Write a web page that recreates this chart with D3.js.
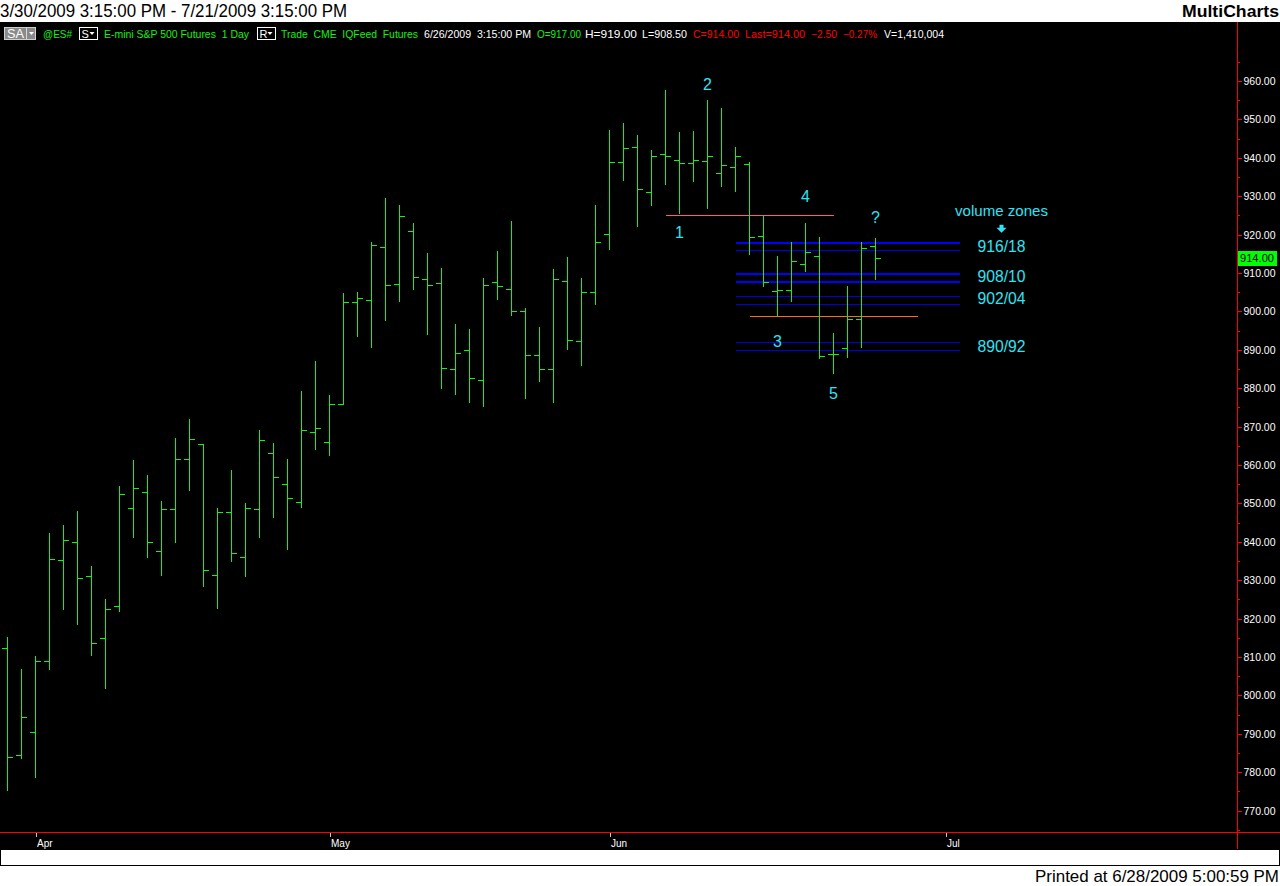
<!DOCTYPE html>
<html><head><meta charset="utf-8">
<script src="https://cdn.jsdelivr.net/npm/d3@7"></script>
<style>
html,body{margin:0;padding:0;background:#fff;overflow:hidden}
svg{display:block}
text{font-family:"Liberation Sans",Arial,sans-serif}
</style>
</head><body>
<svg id="chart" width="1280" height="886"></svg>
<script>
// ---------------- data ----------------
const dates = [
 "2009-03-30","2009-03-31",
 "2009-04-01","2009-04-02","2009-04-03","2009-04-06","2009-04-07","2009-04-08","2009-04-09","2009-04-13","2009-04-14","2009-04-15","2009-04-16","2009-04-17","2009-04-20","2009-04-21","2009-04-22","2009-04-23","2009-04-24","2009-04-27","2009-04-28","2009-04-29","2009-04-30",
 "2009-05-01","2009-05-04","2009-05-05","2009-05-06","2009-05-07","2009-05-08","2009-05-11","2009-05-12","2009-05-13","2009-05-14","2009-05-15","2009-05-18","2009-05-19","2009-05-20","2009-05-21","2009-05-22","2009-05-26","2009-05-27","2009-05-28","2009-05-29",
 "2009-06-01","2009-06-02","2009-06-03","2009-06-04","2009-06-05","2009-06-08","2009-06-09","2009-06-10","2009-06-11","2009-06-12","2009-06-15","2009-06-16","2009-06-17","2009-06-18","2009-06-19","2009-06-22","2009-06-23","2009-06-24","2009-06-25","2009-06-26"
];
const opens = [812.25,784.5,790.5,809.0,835.25,840.0,831.0,815.0,823.25,848.75,853.0,837.5,848.5,861.5,865.5,831.25,847.75,836.0,848.5,863.25,855.0,850.25,868.5,866.0,876.0,902.5,903.0,916.75,907.25,921.0,908.5,907.5,885.0,890.0,882.25,907.75,905.75,900.0,888.75,885.0,908.0,892.25,905.0,920.25,939.0,942.75,931.0,941.0,939.5,938.75,939.25,936.0,937.5,938.5,919.75,905.25,905.5,912.25,914.5,889.0,890.5,898.0,917.0];
const highs = [815.25,807.0,810.25,842.25,844.5,848.0,833.75,825.0,854.5,861.25,857.5,850.5,867.0,872.0,865.5,848.75,858.75,850.0,869.0,865.75,861.5,879.25,887.0,878.25,904.75,905.0,918.0,929.5,927.75,923.0,915.25,911.25,896.75,895.5,908.75,915.75,923.5,901.0,896.0,911.0,914.25,908.75,927.75,947.25,949.0,946.0,942.0,957.75,946.75,947.0,955.0,953.0,942.75,939.0,925.0,914.5,918.0,923.0,919.5,894.5,906.5,918.0,919.0];
const lows = [775.25,783.75,778.75,807.0,822.5,818.5,810.5,802.0,822.0,841.25,836.0,831.25,840.0,853.5,828.5,822.75,835.0,831.0,841.25,846.5,838.25,849.0,864.25,862.5,876.0,893.5,890.75,897.75,902.75,905.75,894.0,880.0,878.5,876.5,875.25,903.25,899.0,877.5,882.0,876.5,890.25,886.0,902.0,916.25,934.25,922.25,927.75,933.25,925.5,934.0,927.0,932.75,931.25,915.0,906.5,899.0,902.75,910.5,887.75,884.0,888.25,890.75,908.5];
const closes = [784.0,794.5,809.0,835.5,840.5,830.5,813.75,822.5,852.5,854.0,840.0,848.5,861.5,866.75,832.75,847.75,837.0,848.75,866.5,856.75,851.5,869.0,869.75,876.0,902.5,903.5,917.25,907.0,924.75,909.0,906.75,885.25,889.25,882.75,907.0,906.5,900.0,888.75,885.0,908.5,892.5,905.0,918.0,939.0,942.5,931.75,940.5,940.5,938.75,939.5,940.5,938.25,940.5,919.5,907.75,905.5,913.25,915.5,888.5,889.0,898.0,916.5,914.0];
const volume = 1410004;

const priceTicks = [770,780,790,800,810,820,830,840,850,860,870,880,890,900,910,920,930,940,950,960];
const priceMinorTicks = [765,775,785,795,805,815,825,835,845,855,865,875,885,895,905,915,925,935,945,955,965];
const monthLabels = ["Apr","May","Jun","Jul"];
const monthDates = ["2009-04-01","2009-05-01","2009-06-01","2009-07-01"];
const rangeEnd = "2009-07-21";

// volume zone lines (price, strong?)
const zoneLevels = [918, 916, 910, 908, 904, 902, 892, 890];
const zoneStrong = [true, false, true, true, false, false, false, false];
const zoneLabels = ["916/18","908/10","902/04","890/92"];
const zoneLabelPrices = [917.0, 909.2, 903.6, 891.1];
const zoneSpan = ["2009-06-12", "2009-07-02"];
// orange support / resistance lines
const orangeLevels = [925, 898.75];
const orangeStart = ["2009-06-05", "2009-06-15"];
const orangeEnd = ["2009-06-23", "2009-06-29"];
// wave labels
const waveLabels = ["1","2","3","4","5","?"];
const waveDates = ["2009-06-08","2009-06-10","2009-06-17","2009-06-19","2009-06-23","2009-06-26"];
const wavePrices = [920.7, 959.2, 892.4, 930.0, 878.8, 924.7];

// ---------------- helpers ----------------
const W = 1280, H = 886;
const last = dates.length - 1;
const dayMs = 86400000;
function idxOf(ds){
  const k = dates.indexOf(ds);
  if (k >= 0) return k;
  // future region: calendar days after last bar
  const diff = Math.round((new Date(ds) - new Date(dates[last])) / dayMs);
  return last + diff;
}
const maxIdx = idxOf(rangeEnd);

const x = d3.scaleLinear().domain([0, maxIdx]).range([7.5, 7.5 + 14 * maxIdx]);
const y = d3.scaleLinear().domain([770, 960]).range([810.6, 81]);
const py = v => Math.round(y(v)) + 0.5;

const GREEN = "#18ee18", RED = "#ff0000", CYAN = "#2ee4f4", ORANGE = "#ff6a2a", BLUE = "#0000ff", DBLUE = "#0000e0";

const svg = d3.select("#chart");

// background
svg.append("rect").attr("x",0).attr("y",0).attr("width",W).attr("height",H).attr("fill","#fff");
svg.append("rect").attr("x",0).attr("y",22).attr("width",W).attr("height",827).attr("fill","#000");

// title
svg.append("text").attr("x",0).attr("y",17).attr("font-size",18).attr("fill","#000")
  .attr("textLength",347).attr("lengthAdjust","spacingAndGlyphs")
  .text("3/30/2009 3:15:00 PM - 7/21/2009 3:15:00 PM");
svg.append("text").attr("x",1182).attr("y",17).attr("font-size",17).attr("font-weight","bold").attr("fill","#000")
  .attr("textLength",97).attr("lengthAdjust","spacingAndGlyphs").text("MultiCharts");

// ---------------- info bar ----------------
const fmt2 = d3.format(".2f");
const chg = closes[last] - closes[last-1];
const info = svg.append("g").attr("font-size",10.5);
// SA box
info.append("rect").attr("x",4.5).attr("y",27.5).attr("width",31).attr("height",12).attr("fill","#8a8a8a").attr("stroke","#cfcfcf");
info.append("line").attr("x1",26.5).attr("x2",26.5).attr("y1",28).attr("y2",39).attr("stroke","#d8d8d8");
info.append("text").attr("x",7).attr("y",38).attr("fill","#fff").attr("font-size",12).attr("textLength",17).attr("lengthAdjust","spacingAndGlyphs").text("SA");
info.append("path").attr("d","M29,32 L34,32 L31.5,35 Z").attr("fill","#fff");
// S box and R box
[[79.5,"S"],[257.5,"R"]].forEach(([bx,t])=>{
  info.append("rect").attr("x",bx).attr("y",27.5).attr("width",18).attr("height",12).attr("fill","#000").attr("stroke","#fff");
  info.append("text").attr("x",bx+2).attr("y",38).attr("fill","#fff").attr("font-size",11).text(t);
  info.append("path").attr("d",`M${bx+10},32 L${bx+15},32 L${bx+12.5},35 Z`).attr("fill","#fff");
});
const infoItems = [
  ["@ES#",43,29,GREEN],
  ["E-mini S&P 500 Futures  1 Day",104,145,GREEN],
  ["Trade  CME  IQFeed  Futures",281,137,GREEN],
  ["6/26/2009  3:15:00 PM",424,107,"#fff"],
  ["O="+fmt2(opens[last]),537,44,GREEN],
  ["H="+fmt2(highs[last]),585,52,"#fff"],
  ["L="+fmt2(lows[last]),642,45,"#fff"],
  ["C="+fmt2(closes[last]),693,46,RED],
  ["Last="+fmt2(closes[last]),745,60,RED],
  [fmt2(chg),811,26,RED],
  [fmt2(chg/closes[last-1]*100)+"%",843,34,RED],
  ["V="+d3.format(",")(volume),884,60,"#fff"]
];
info.selectAll("text.it").data(infoItems).join("text").attr("class","it")
  .attr("x",d=>d[1]).attr("y",38).attr("fill",d=>d[3])
  .attr("textLength",d=>d[2]).attr("lengthAdjust","spacingAndGlyphs")
  .attr("xml:space","preserve").style("white-space","pre")
  .text(d=>d[0]);

// ---------------- annotation lines ----------------
const zoneG = svg.append("g").attr("shape-rendering","crispEdges");
zoneG.selectAll("line").data(zoneLevels).join("line")
  .attr("x1", x(idxOf(zoneSpan[0]))).attr("x2", x(idxOf(zoneSpan[1])))
  .attr("y1",(d,i)=> zoneStrong[i] ? Math.round(y(d))+1 : py(d))
  .attr("y2",(d,i)=> zoneStrong[i] ? Math.round(y(d))+1 : py(d))
  .attr("stroke",(d,i)=> zoneStrong[i] ? BLUE : DBLUE)
  .attr("stroke-width",(d,i)=> zoneStrong[i] ? 2 : 1);

const orG = svg.append("g").attr("shape-rendering","crispEdges");
orG.selectAll("line").data(orangeLevels).join("line")
  .attr("x1",(d,i)=>x(idxOf(orangeStart[i]))).attr("x2",(d,i)=>x(idxOf(orangeEnd[i])))
  .attr("y1",d=>py(d)).attr("y2",d=>py(d))
  .attr("stroke",ORANGE).attr("stroke-width",1);

// ---------------- OHLC bars ----------------
const bars = svg.append("g").attr("stroke",GREEN).attr("stroke-width",1).attr("shape-rendering","crispEdges");
const idx = d3.range(dates.length);
bars.selectAll("line.hl").data(idx).join("line").attr("class","hl")
  .attr("x1",i=>x(i)).attr("x2",i=>x(i))
  .attr("y1",i=>Math.round(y(highs[i]))).attr("y2",i=>Math.round(y(lows[i]))+1);
bars.selectAll("line.op").data(idx).join("line").attr("class","op")
  .attr("x1",i=>x(i)-5.5).attr("x2",i=>x(i))
  .attr("y1",i=>py(opens[i])).attr("y2",i=>py(opens[i]));
bars.selectAll("line.cl").data(idx).join("line").attr("class","cl")
  .attr("x1",i=>x(i)).attr("x2",i=>x(i)+5.5)
  .attr("y1",i=>py(closes[i])).attr("y2",i=>py(closes[i]));

// ---------------- text annotations ----------------
const ann = svg.append("g").attr("fill",CYAN).attr("font-size",16).attr("text-anchor","middle");
ann.selectAll("text.w").data(waveLabels).join("text").attr("class","w")
  .attr("x",(d,i)=>x(idxOf(waveDates[i]))).attr("y",(d,i)=>y(wavePrices[i])+6)
  .text(d=>d);
const zx = x(idxOf("2009-07-05"));
ann.append("text").attr("x",zx).attr("y",y(926.2)+5.5).attr("font-size",15)
  .attr("textLength",93).attr("lengthAdjust","spacingAndGlyphs").text("volume zones");
ann.selectAll("text.z").data(zoneLabels).join("text").attr("class","z")
  .attr("x",zx).attr("y",(d,i)=>y(zoneLabelPrices[i])+6)
  .attr("textLength",48).attr("lengthAdjust","spacingAndGlyphs").text(d=>d);
const ay = y(921.5);
ann.append("path").attr("d",`M${zx-2},${ay-4} h4 v3 h3 l-5,5 l-5,-5 h3 z`).attr("fill",CYAN);

// ---------------- price axis ----------------
const axisX = 1237.5;
const axG = svg.append("g").attr("transform",`translate(${axisX},0)`);
axG.call(d3.axisRight(y).tickValues(priceMinorTicks).tickSize(2).tickFormat(""));
axG.append("g").call(d3.axisRight(y).tickValues(priceTicks).tickSize(4).tickPadding(2).tickFormat(d3.format(".2f")));
axG.selectAll(".domain").remove();
axG.selectAll(".tick line").attr("stroke",RED).attr("shape-rendering","crispEdges");
axG.selectAll(".tick text").attr("fill","#fff").attr("font-size",11)
  .attr("font-family","Liberation Sans, Arial, sans-serif")
  .attr("textLength",32).attr("lengthAdjust","spacingAndGlyphs");
// red axis line
svg.append("line").attr("x1",axisX).attr("x2",axisX).attr("y1",22).attr("y2",849).attr("stroke",RED).attr("shape-rendering","crispEdges");

// last price marker
const lp = y(closes[last]);
svg.append("rect").attr("x",1238).attr("y",Math.round(lp)-7).attr("width",39).attr("height",15).attr("fill","#00ff00");
svg.append("text").attr("x",1240).attr("y",Math.round(lp)+4).attr("font-size",11).attr("fill","#000")
  .attr("textLength",34).attr("lengthAdjust","spacingAndGlyphs").text(fmt2(closes[last]));

// ---------------- time axis ----------------
svg.append("line").attr("x1",0).attr("x2",W).attr("y1",832.5).attr("y2",832.5).attr("stroke",RED).attr("shape-rendering","crispEdges");
const mt = svg.append("g");
mt.selectAll("line").data(monthDates).join("line")
  .attr("x1",d=>Math.round(x(idxOf(d)))+0.5).attr("x2",d=>Math.round(x(idxOf(d)))+0.5)
  .attr("y1",833).attr("y2",837).attr("stroke","#c8c8c8").attr("shape-rendering","crispEdges");
mt.selectAll("text").data(monthDates).join("text")
  .attr("x",d=>Math.round(x(idxOf(d)))+1).attr("y",847).attr("fill","#fff").attr("font-size",10)
  .text((d,i)=>monthLabels[i]);

// bottom white band and footer
svg.append("rect").attr("x",0.5).attr("y",849.5).attr("width",1279).attr("height",16).attr("fill","#fff").attr("stroke","#000").attr("shape-rendering","crispEdges");
svg.append("text").attr("x",1279).attr("y",882).attr("text-anchor","end").attr("font-size",17).attr("fill","#000")
  .attr("textLength",244).attr("lengthAdjust","spacingAndGlyphs").text("Printed at 6/28/2009 5:00:59 PM");
</script>
</body></html>
